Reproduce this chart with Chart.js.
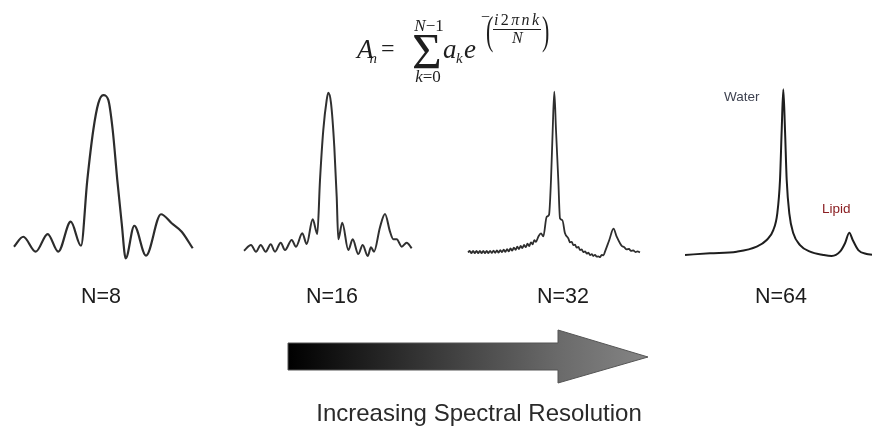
<!DOCTYPE html>
<html>
<head>
<meta charset="utf-8">
<script src="https://cdn.jsdelivr.net/npm/chart.js@4.4.1/dist/chart.umd.min.js"></script>
<style>
  html, body { margin: 0; padding: 0; background: #fff; }
  body { width: 872px; height: 429px; position: relative; overflow: hidden; }
  canvas.spec { position: absolute; }
  svg#overlay { position: absolute; left: 0; top: 0; pointer-events: none; }
</style>
</head>
<body>

<canvas class="spec" id="p8"></canvas>
<canvas class="spec" id="p16"></canvas>
<canvas class="spec" id="p32"></canvas>
<canvas class="spec" id="p64"></canvas>

<svg id="overlay" width="872" height="429" xmlns="http://www.w3.org/2000/svg">
  <defs>
    <linearGradient id="arrowFill" gradientUnits="userSpaceOnUse" x1="288" y1="0" x2="648" y2="0">
      <stop offset="0" stop-color="#000000"/>
      <stop offset="0.75" stop-color="#6a6a6a"/>
      <stop offset="1" stop-color="#858585"/>
    </linearGradient>
  </defs>

  <!-- DFT formula -->
  <g font-family="'Liberation Serif', 'Times New Roman', serif" fill="#1e1e1e">
    <text x="357" y="58" font-style="italic" font-size="27">A</text>
    <text x="369.5" y="62.5" font-style="italic" font-size="15">n</text>
    <text x="381" y="56" font-size="24">=</text>
    <text x="412" y="68" font-size="51">Σ</text>
    <text x="429" y="31" text-anchor="middle" font-size="17"><tspan font-style="italic">N</tspan>−1</text>
    <text x="428" y="82" text-anchor="middle" font-size="17"><tspan font-style="italic">k</tspan>=0</text>
    <text x="443" y="58" font-style="italic" font-size="27">a</text>
    <text x="456" y="63" font-style="italic" font-size="15">k</text>
    <text x="464" y="58" font-style="italic" font-size="27">e</text>
    <text x="481" y="22" font-size="16">−</text>
    <text transform="translate(486,44) scale(0.55,1)" font-size="40">(</text>
    <text x="494" y="25" font-size="16" textLength="45" lengthAdjust="spacing"><tspan font-style="italic">i</tspan>2<tspan font-style="italic">πnk</tspan></text>
    <line x1="493" y1="29.5" x2="541" y2="29.5" stroke="#1e1e1e" stroke-width="1"/>
    <text x="512" y="43" font-style="italic" font-size="16">N</text>
    <text transform="translate(542,44) scale(0.55,1)" font-size="40">)</text>
  </g>

  <!-- peak annotations -->
  <g font-family="'Liberation Sans', Arial, sans-serif" font-size="13.5">
    <text x="724" y="100.5" fill="#3e4250">Water</text>
    <text x="822" y="212.5" fill="#8a1e22">Lipid</text>
  </g>

  <!-- panel captions -->
  <g id="captions" font-family="'Liberation Sans', Arial, sans-serif" font-size="21.5" fill="#1c1c1c" text-anchor="middle"></g>

  <!-- resolution arrow -->
  <path d="M288,343 L558,343 L558,330 L648,357 L558,383 L558,370 L288,370 Z"
        fill="url(#arrowFill)" stroke="#555" stroke-width="1"/>
  <text x="479" y="421" text-anchor="middle" font-family="'Liberation Sans', Arial, sans-serif"
        font-size="24" fill="#2a2a2a">Increasing Spectral Resolution</text>
</svg>

<script>
// Reconstructed spectra for increasing numbers of samples.
// Frequency in bins across each panel, amplitude in percent of panel height.
const panelLabels = ['N=8', 'N=16', 'N=32', 'N=64'];

const n8Freq = [0, 9.3, 21.7, 33.7, 44.3, 56.7, 67, 73.3, 79.3, 84.3, 89.3, 94.3, 98.7, 103.3, 107.7, 111.7, 120.3, 132, 147, 157.7, 167.7, 178.7];
const n8Amp  = [10.2, 15.7, 7.4, 17.2, 7.4, 24.1, 10.7, 47.2, 75, 89.8, 94.4, 91.7, 75, 47.2, 23.2, 3.7, 21.8, 5.2, 28.2, 23.2, 18.5, 9.3];

const n16Freq = [0, 7, 12, 16.7, 21.7, 26.7, 31, 36.7, 41, 47.7, 52, 58.3, 62.7, 68.7, 73.3, 76, 79.3, 82.7, 84.3, 87, 90.3, 92.7, 94.3, 98.3, 104.3, 108.7, 114.3, 118.7, 123.7, 127, 130, 136, 141, 146, 149.3, 152.7, 157.7, 162.7, 167.7];
const n16Amp  = [7.9, 11.1, 7.4, 11.1, 7.4, 11.5, 7.4, 12.4, 8.3, 13.9, 10.2, 17.6, 11.7, 25.4, 17.2, 47.2, 75, 91.7, 95.7, 90, 65.7, 37.9, 14.3, 23.5, 8.3, 14.3, 6.1, 11.1, 5, 9.8, 7.4, 21, 28.3, 18.5, 14.3, 14.3, 10.2, 12.4, 9.3];

const n32Freq = [0, 1.7, 3.4, 5.1, 6.8, 8.5, 10.2, 11.9, 13.6, 15.3, 17, 18.7, 20.4, 22.1, 23.8, 25.5, 27.2, 28.9, 30.6, 32.3, 34, 35.7, 37.4, 39.1, 40.8, 42.5, 44.2, 45.9, 47.6, 49.3, 51, 52.7, 54.4, 56.1, 57.8, 59.5, 61.2, 62.9, 64.6, 66.3, 68, 70.3, 73, 75.3, 78.7, 81, 83, 84.7, 86.3, 88, 90.3, 92, 94.3, 97, 100.3, 102, 103.7, 105.4, 107, 108.7, 110.4, 112, 113.7, 115.4, 117.1, 118.7, 120.4, 122.1, 123.8, 125.3, 127, 128.7, 130.3, 132, 133.7, 135.5, 137, 141.3, 145.5, 148.7, 152, 154, 156, 158.7, 161, 163, 165.3, 167.5, 169.5, 172];
const n32Amp  = [7, 7.8, 6.6, 7.8, 6.6, 7.8, 6.6, 7.8, 6.6, 7.8, 6.6, 7.8, 6.6, 7.9, 6.7, 8, 6.8, 8.1, 6.9, 8.3, 7.1, 8.5, 7.3, 8.8, 7.6, 9.2, 8, 9.7, 8.4, 10.2, 8.9, 10.6, 9.4, 11.1, 9.9, 11.8, 10.5, 12.6, 11.5, 13.8, 12.9, 15.7, 17.6, 15.9, 26.8, 27.8, 47.2, 75, 96.3, 75, 47.2, 25.9, 25, 17.6, 14.8, 12.6, 12.9, 11, 11.3, 9.6, 10, 8.3, 8.6, 7.2, 7.6, 6.3, 6.8, 5.5, 6, 5, 5.6, 4.6, 4.8, 4.4, 5.6, 5.4, 7.4, 13.9, 20.2, 15.7, 12.1, 10.5, 10, 8.7, 8.9, 7.8, 8.1, 7.2, 7.6, 7];

const n64Freq = [0, 25, 51.7, 71.7, 81.7, 88.3, 92.3, 95, 96.7, 98.3, 100, 101.7, 104.3, 108.3, 115, 125, 138.3, 146.7, 155, 160, 164.3, 167.7, 173.3, 181.7, 187];
const n64Amp  = [5.6, 6.5, 7.4, 10.2, 13.9, 19.4, 28.7, 47.2, 75, 97.6, 75, 47.2, 28.7, 17.6, 11.1, 7.4, 5.6, 5, 7.4, 12.1, 17.9, 13.9, 8.3, 6.1, 5.7];

// Panel frames: left edge of the frequency axis, its span in bins, line style
const panels = [
  { id: 'p8',  left: 14,  span: 178.7, freq: n8Freq,  amp: n8Amp,  color: '#2c2c2c', width: 2.2, caption: 101 },
  { id: 'p16', left: 244, span: 167.7, freq: n16Freq, amp: n16Amp, color: '#303030', width: 2.0, caption: 332 },
  { id: 'p32', left: 468, span: 172,   freq: n32Freq, amp: n32Amp, color: '#2e2e2e', width: 1.8, caption: 563 },
  { id: 'p64', left: 685, span: 187,   freq: n64Freq, amp: n64Amp, color: '#1e1e1e', width: 2.0, caption: 781 }
];

const PAD = 6;          // room around the plot area for the stroke
const PLOT_TOP = 85;    // top of amplitude axis (100%)
const PLOT_H = 180;     // amplitude axis height

panels.forEach((p, i) => {
  const cv = document.getElementById(p.id);
  const w = Math.round(p.span) + 2 * PAD;
  const h = PLOT_H + 2 * PAD;
  cv.width = w; cv.height = h;
  cv.style.width = w + 'px'; cv.style.height = h + 'px';
  cv.style.left = (p.left - PAD) + 'px';
  cv.style.top = (PLOT_TOP - PAD) + 'px';

  new Chart(cv, {
    type: 'line',
    data: {
      datasets: [{
        data: p.freq.map((f, k) => ({ x: f, y: p.amp[k] })),
        borderColor: p.color,
        borderWidth: p.width,
        cubicInterpolationMode: 'monotone',
        pointRadius: 0,
        fill: false,
        clip: PAD
      }]
    },
    options: {
      responsive: false,
      devicePixelRatio: 1,
      animation: false,
      layout: { padding: PAD },
      plugins: { legend: { display: false }, tooltip: { enabled: false }, title: { display: false } },
      scales: {
        x: { type: 'linear', min: 0, max: Math.round(p.span), display: false },
        y: { type: 'linear', min: 0, max: 100, display: false }
      }
    }
  });

  // caption under each panel
  const t = document.createElementNS('http://www.w3.org/2000/svg', 'text');
  t.setAttribute('x', p.caption);
  t.setAttribute('y', 303);
  t.textContent = panelLabels[i];
  document.getElementById('captions').appendChild(t);
});
</script>
</body>
</html>
